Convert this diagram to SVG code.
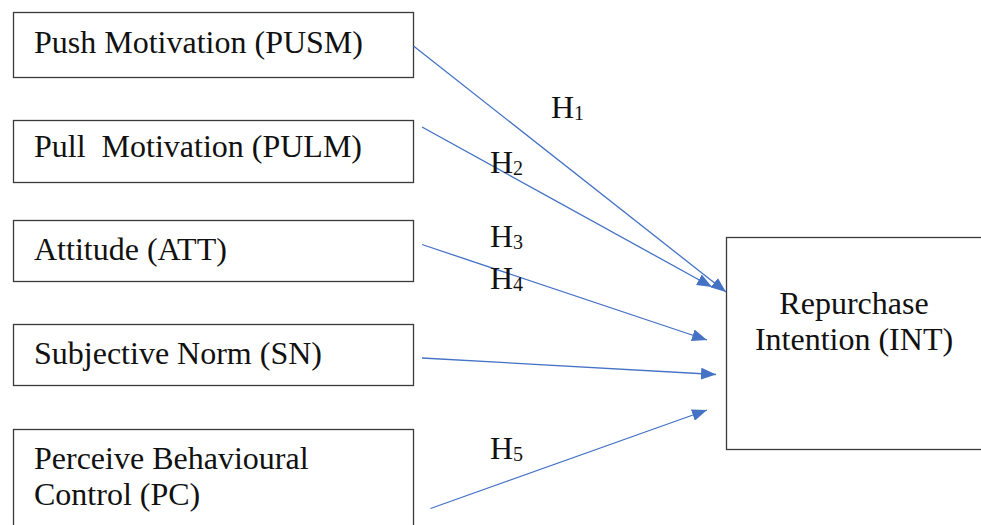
<svg xmlns="http://www.w3.org/2000/svg" width="981" height="525" viewBox="0 0 981 525">
<defs>
<style>
.box{fill:#fff;stroke:#3a3a3a;stroke-width:1.3}
.c{stroke:#4472C4;stroke-width:1.3;fill:none;marker-end:url(#ah)}
</style>
<marker id="ah" viewBox="0 0 15 12" refX="15" refY="6" markerWidth="15" markerHeight="12" markerUnits="userSpaceOnUse" orient="auto">
<path d="M0,0 L15,6 L0,12 z" fill="#4472C4"/>
</marker>
</defs>
<rect width="981" height="525" fill="#fff"/>
<g font-family="Liberation Serif" font-size="32" fill="#111">
<g id="pusm"><rect class="box" x="13.5" y="12.5" width="400" height="65"/><text x="34" y="53">Push Motivation (PUSM)</text></g>
<g id="pulm"><rect class="box" x="13.5" y="120.5" width="400" height="62"/><text x="34" y="157" xml:space="preserve">Pull  Motivation (PULM)</text></g>
<g id="att"><rect class="box" x="13.5" y="220.5" width="400" height="61"/><text x="34" y="260">Attitude (ATT)</text></g>
<g id="sn"><rect class="box" x="13.5" y="324.5" width="400" height="61"/><text x="34" y="364">Subjective Norm (SN)</text></g>
<g id="pc"><rect class="box" x="13.5" y="429.5" width="400" height="110"/><text x="34" y="469">Perceive Behavioural</text><text x="34" y="505">Control (PC)</text></g>
<g id="int"><rect class="box" x="726.5" y="237.5" width="270" height="212"/><text x="854" y="314" text-anchor="middle">Repurchase</text><text x="854" y="350" text-anchor="middle">Intention (INT)</text></g>
</g>
<g id="connectors">
<line class="c" x1="413.5" y1="46" x2="726" y2="292"/>
<line class="c" x1="422" y1="127" x2="712" y2="287"/>
<line class="c" x1="422" y1="244.5" x2="707" y2="340"/>
<line class="c" x1="422" y1="358" x2="716" y2="374.5"/>
<line class="c" x1="430.5" y1="508.5" x2="707" y2="410"/>
</g>
<g id="labels" font-family="Liberation Serif" font-size="32" fill="#111">
<text x="551" y="118">H<tspan font-size="20" dy="2">1</tspan></text>
<text x="490" y="172.5">H<tspan font-size="20" dy="2">2</tspan></text>
<text x="490" y="247">H<tspan font-size="20" dy="2">3</tspan></text>
<text x="490" y="289">H<tspan font-size="20" dy="2">4</tspan></text>
<text x="490" y="459">H<tspan font-size="20" dy="2">5</tspan></text>
</g>
</svg>
